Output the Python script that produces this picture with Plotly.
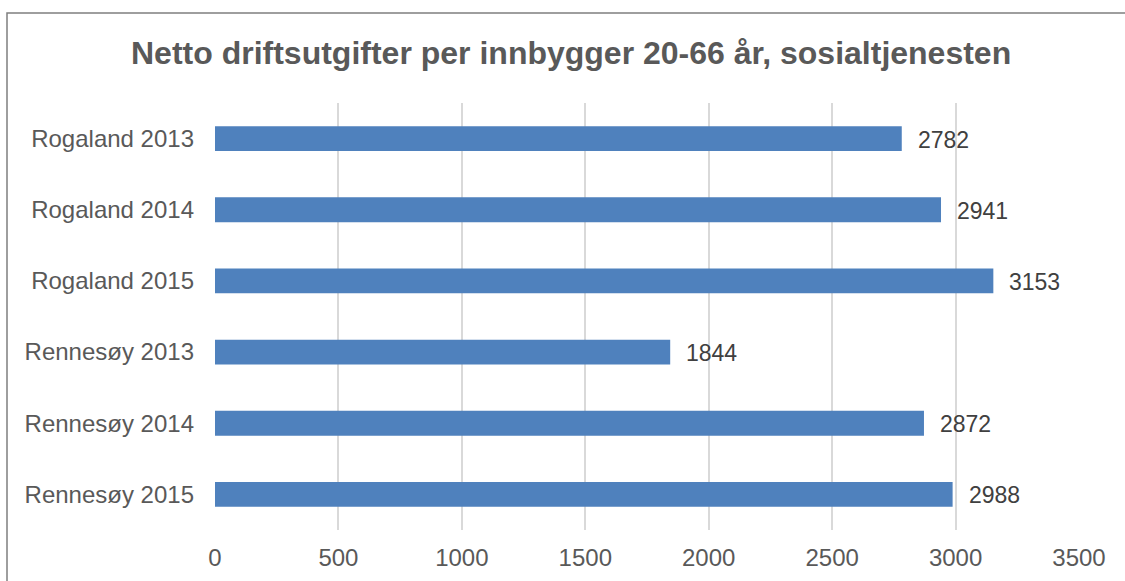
import plotly.graph_objects as go

# Net operating expenditure per inhabitant aged 20-66, social services
categories = ["Rogaland 2013", "Rogaland 2014", "Rogaland 2015",
              "Rennesøy 2013", "Rennesøy 2014", "Rennesøy 2015"]
values = [2782, 2941, 3153, 1844, 2872, 2988]
x_ticks = [0, 500, 1000, 1500, 2000, 2500, 3000, 3500]

BAR = "#4F81BD"
TXT = "#595959"
FONT = "Liberation Sans, Arial, sans-serif"

plot_l, plot_r, plot_t, plot_b = 215, 1079, 103, 530
pw, ph = plot_r - plot_l, plot_b - plot_t

fig = go.Figure()
fig.add_trace(go.Bar(
    x=values, y=categories, orientation="h",
    marker=dict(color=BAR, line=dict(width=0)),
    hoverinfo="x+y",
))

annotations = [
    dict(x=v, y=c, xref="x", yref="y", text=str(v), showarrow=False,
         xanchor="left", yanchor="middle", xshift=14, yshift=-1,
         font=dict(family=FONT, size=23, color="#404040"))
    for c, v in zip(categories, values)
]
annotations.append(dict(
    x=(571 - plot_l) / pw, y=(plot_b - 53) / ph,
    xref="paper", yref="paper", showarrow=False,
    xanchor="center", yanchor="middle",
    text="<b>Netto driftsutgifter per innbygger 20-66 år, sosialtjenesten</b>",
    font=dict(family=FONT, size=32, color=TXT),
))

fig.update_layout(
    width=1125, height=581,
    margin=dict(l=plot_l, r=1125 - plot_r, t=plot_t, b=581 - plot_b, pad=0,
                autoexpand=False),
    paper_bgcolor="white", plot_bgcolor="white",
    bargap=0.65,
    showlegend=False,
    annotations=annotations,
    shapes=[dict(
        type="rect", xref="paper", yref="paper",
        x0=(7 - plot_l) / pw, x1=1.5,
        y0=-0.5, y1=(plot_b - 13) / ph,
        line=dict(color="#7F7F7F", width=1.5), fillcolor="rgba(0,0,0,0)",
        layer="below",
    )],
    xaxis=dict(
        range=[0, 3500], tickvals=x_ticks, ticktext=[str(t) for t in x_ticks],
        showgrid=True, gridcolor="#D9D9D9", gridwidth=1.5,
        zeroline=False, showline=False, ticks="", automargin=False,
        tickfont=dict(family=FONT, size=24, color=TXT),
        ticklabelstandoff=11,
    ),
    yaxis=dict(
        categoryorder="array", categoryarray=categories[::-1],
        showgrid=False, zeroline=False, showline=False, ticks="", automargin=False,
        tickfont=dict(family=FONT, size=24, color=TXT),
        ticklabelstandoff=20,
    ),
)

fig.write_html("out.html")
